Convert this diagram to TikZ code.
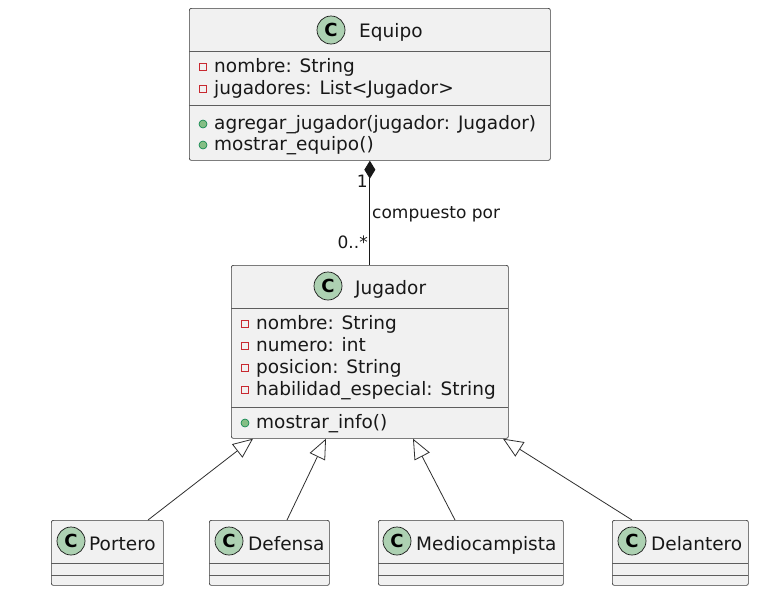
\documentclass[tikz,border=0pt]{standalone}
\usepackage{fontspec}
\setmainfont{DejaVu Sans}
\usetikzlibrary{arrows.meta}

\definecolor{boxfill}{HTML}{F1F1F1}
\definecolor{boxline}{HTML}{181818}
\definecolor{circfill}{HTML}{ADD1B2}
\definecolor{privred}{HTML}{C82930}
\definecolor{pubgreen}{HTML}{84BE84}
\definecolor{publine}{HTML}{038048}

\tikzset{
    classbox/.style={draw=boxline!85, fill=boxfill, line width=0.7pt, rounded corners=2pt,
        anchor=north west, inner sep=0pt},
    divider/.style={draw=boxline!70, line width=0.7pt},
    classicon/.style={shape=circle, draw=boxline, fill=circfill, line width=0.7pt,
        minimum size=28pt, inner sep=0pt, font=\fontsize{18}{18}\selectfont\bfseries},
    title/.style={anchor=base west, inner sep=0pt, text=boxline, font=\fontsize{18.5}{21}\selectfont},
    member/.style={anchor=base west, inner sep=0pt, text=boxline, font=\fontsize{18.5}{21}\selectfont},
    privmark/.style={shape=rectangle, draw=privred, line width=0.7pt, minimum size=7.5pt, inner sep=0pt},
    pubmark/.style={shape=circle, draw=publine, fill=pubgreen, line width=0.6pt, minimum size=8pt, inner sep=0pt},
    lbl/.style={inner sep=0pt, text=boxline, font=\fontsize{17}{20}\selectfont},
    inherit/.style={draw=boxline!90, line width=0.8pt, -{Triangle[length=20pt,width=17pt,fill=white]}},
    compose/.style={draw=boxline, line width=0.8pt, {Diamond[length=18pt,width=11pt]}-}
}

\begin{document}
\begin{tikzpicture}[x=1pt, y=-1pt]
    \useasboundingbox[fill=white] (0,0) rectangle (759,600);

    % Equipo
    \node[classbox, minimum width=361pt, minimum height=152pt] (equipo) at (189,8) {};
    \draw[divider] (189,51) -- (550,51);
    \draw[divider] (189,105) -- (550,105);
    \node[classicon] (equipoC) at (331,30) {C};
    \node[title] (equipoT) at (359,37) {Equipo};
    \node[privmark] (eq1m) at (203,67) {};
    \node[member] (eq1) at (214,72) {nombre: String};
    \node[privmark] (eq2m) at (203,89) {};
    \node[member] (eq2) at (214,94) {jugadores: List<Jugador>};
    \node[pubmark] (eq3m) at (203,124) {};
    \node[member] (eq3) at (214,129) {agregar\_jugador(jugador: Jugador)};
    \node[pubmark] (eq4m) at (203,145) {};
    \node[member] (eq4) at (214,150) {mostrar\_equipo()};

    % Jugador
    \node[classbox, minimum width=277pt, minimum height=173pt] (jugador) at (231,265) {};
    \draw[divider] (231,308) -- (508,308);
    \draw[divider] (231,407) -- (508,407);
    \node[classicon] (jugadorC) at (328,286) {C};
    \node[title] (jugadorT) at (355,294) {Jugador};
    \node[privmark] (ju1m) at (245,324) {};
    \node[member] (ju1) at (256,329) {nombre: String};
    \node[privmark] (ju2m) at (245,346) {};
    \node[member] (ju2) at (256,351) {numero: int};
    \node[privmark] (ju3m) at (245,368) {};
    \node[member] (ju3) at (256,373) {posicion: String};
    \node[privmark] (ju4m) at (245,390) {};
    \node[member] (ju4) at (256,395) {habilidad\_especial: String};
    \node[pubmark] (ju5m) at (245,423) {};
    \node[member] (ju5) at (256,428) {mostrar\_info()};

    % subclasses
    \node[classbox, minimum width=112pt, minimum height=65pt] (portero) at (51,520) {};
    \node[classbox, minimum width=120pt, minimum height=65pt] (defensa) at (209,520) {};
    \node[classbox, minimum width=185pt, minimum height=65pt] (medio) at (378,520) {};
    \node[classbox, minimum width=136pt, minimum height=65pt] (delantero) at (612,520) {};
    \foreach \a/\b in {51/163, 209/329, 378/563, 612/748} {
        \draw[divider] (\a,563) -- (\b,563);
        \draw[divider] (\a,575) -- (\b,575);
    }
    \node[classicon] (porteroC) at (71,541) {C};
    \node[title] (porteroT) at (89,550) {Portero};
    \node[classicon] (defensaC) at (229,541) {C};
    \node[title] (defensaT) at (248,550) {Defensa};
    \node[classicon] (medioC) at (397,541) {C};
    \node[title] (medioT) at (416,550) {Mediocampista};
    \node[classicon] (delanteroC) at (632,541) {C};
    \node[title] (delanteroT) at (651,550) {Delantero};

    % relations
    \draw[compose] (equipo.south) -- (jugador.north);
    \node[lbl, anchor=base east] (m1) at (368,187) {1};
    \node[lbl, anchor=base west] (rel) at (372,218) {compuesto por};
    \node[lbl, anchor=base east] (m2) at (368,248) {0..*};

    \draw[inherit] ([xshift=97pt]portero.north west) -- ([xshift=22pt]jugador.south west);
    \draw[inherit] ([xshift=78pt]defensa.north west) -- ([xshift=95pt]jugador.south west);
    \draw[inherit] ([xshift=77pt]medio.north west) -- ([xshift=182pt]jugador.south west);
    \draw[inherit] ([xshift=20pt]delantero.north west) -- ([xshift=272pt]jugador.south west);
\end{tikzpicture}
\end{document}
